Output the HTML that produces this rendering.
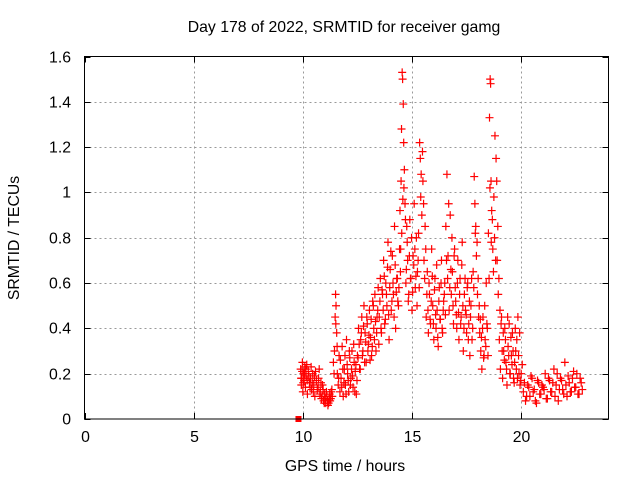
<!DOCTYPE html>
<html><head><meta charset="utf-8"><style>
body{margin:0;background:#fff}
svg text{font-family:"Liberation Sans","DejaVu Sans",sans-serif;font-size:15.8px;fill:#000}
</style></head><body>
<svg id="chart" width="640" height="480" xmlns="http://www.w3.org/2000/svg">
<rect width="640" height="480" fill="#fff"/>
<text x="344" y="32" text-anchor="middle">Day 178 of 2022, SRMTID for receiver gamg</text>
<text transform="translate(19,238) rotate(-90)" text-anchor="middle">SRMTID / TECUs</text>
<text x="345" y="471" text-anchor="middle">GPS time / hours</text>
<g id="grid"></g>
<g id="ticks"></g>
<g id="marks"></g>
<rect x="84.5" y="56.5" width="524" height="362.5" fill="none" stroke="#000" stroke-width="1"/>
</svg>
<script>
const xTicks=[0,5,10,15,20];
const yTicks=[0,0.2,0.4,0.6,0.8,1,1.2,1.4,1.6];
const yTickLabels=["0","0.2","0.4","0.6","0.8","1","1.2","1.4","1.6"];
const times=[9.90,9.93,9.95,9.98,10.00,10.03,10.06,10.09,10.12,10.15,10.18,10.21,10.25,10.30,10.35,10.40,10.45,10.50,10.55,10.62,
10.70,10.75,10.80,10.85,10.90,10.95,11.00,11.05,11.10,11.15,11.20,11.25,11.30,11.35,
11.40,11.45,11.48,11.50,11.52,11.55,11.58,11.62,11.66,
11.70,11.75,11.80,11.85,11.90,11.95,12.00,12.05,12.10,12.15,12.20,12.25,12.30,12.35,12.40,12.45,
12.50,12.55,12.60,12.65,12.70,12.75,12.80,12.85,12.90,12.95,13.00,13.05,13.10,13.15,13.20,13.25,13.30,13.35,13.40,13.45,
13.50,13.55,13.60,13.65,13.70,13.75,13.80,13.85,13.90,13.95,14.00,14.05,14.10,14.15,14.20,14.25,14.30,14.35,
14.40,14.45,14.48,14.50,14.52,14.55,14.57,14.60,14.62,14.65,14.68,14.72,14.76,14.80,
14.85,14.90,14.95,15.00,15.05,15.10,15.15,15.20,15.25,
15.30,15.35,15.38,15.42,15.45,15.50,15.55,15.60,
15.65,15.70,15.75,15.80,15.85,15.90,15.95,16.00,16.05,16.10,16.15,16.20,16.25,16.30,16.35,16.40,16.45,
16.50,16.55,16.60,16.65,16.70,16.75,16.80,16.85,16.90,16.95,
17.00,17.05,17.10,17.15,17.20,17.25,17.30,17.35,17.40,17.45,17.50,17.55,17.60,17.65,17.70,17.75,
17.80,17.85,17.88,17.92,17.95,18.00,18.05,18.10,
18.15,18.20,18.25,18.30,18.35,18.40,18.45,
18.50,18.55,18.58,18.60,18.62,18.65,18.70,18.75,18.80,18.85,18.90,18.95,
19.00,19.05,19.10,19.15,19.20,19.25,19.30,19.35,19.40,19.45,19.50,19.55,19.60,19.65,19.70,19.75,19.80,19.85,19.90,19.95,
20.0,20.1,20.2,20.3,20.4,20.5,20.6,20.7,20.8,20.9,21.0,21.1,21.2,21.3,21.4,21.5,21.6,21.7,21.8,21.9,22.0,22.1,22.2,22.3,22.4,22.5,22.6,22.7,22.8];
const values=[.22,.15,.18,.25,.12,.20,.17,.23,.14,.19,.24,.11,.21,.16,.18,.13,.20,.15,.10,.17,
.14,.22,.12,.09,.15,.08,.11,.07,.10,.06,.09,.08,.12,.10,
.25,.30,.45,.55,.50,.38,.20,.15,.28,
.12,.18,.32,.10,.22,.15,.35,.20,.12,.27,.18,.30,.14,.25,.21,.11,
.28,.40,.22,.35,.45,.30,.50,.38,.25,.42,.33,.48,.36,.28,.52,.40,.55,.30,.45,.58,
.45,.62,.38,.55,.70,.42,.60,.50,.78,.35,.66,.48,.72,.55,.85,.40,.62,.52,
.58,.92,.75,1.05,1.28,1.53,1.50,1.39,1.22,1.10,.95,.60,.85,.70,
.55,.88,.62,.48,.72,.95,.58,.80,.65,
.82,1.22,1.15,1.08,.90,1.05,.70,.85,
.45,.65,.38,.55,.42,.75,.50,.35,.62,.40,.48,.32,.58,.44,.70,.38,.52,
.60,.85,1.08,.72,.48,.90,.55,.65,.42,.75,
.52,.40,.70,.35,.62,.45,.78,.30,.55,.48,.38,.60,.42,.28,.50,.35,
.65,1.07,.95,.85,.72,.55,.45,.38,
.30,.22,.45,.28,.35,.60,.40,
.82,1.33,1.50,1.48,1.05,.92,.75,.98,1.25,1.15,.70,.55,
.35,.22,.45,.18,.30,.40,.25,.15,.32,.42,.20,.28,.38,.18,.25,.30,.35,.45,.20,.15,
.20,.12,.08,.15,.10,.18,.13,.07,.16,.11,.14,.20,.09,.17,.12,.22,.15,.08,.18,.13,.25,.10,.16,.12,.21,.14,.11,.18,.13];
const times2=[9.92,9.97,10.02,10.08,10.14,10.20,10.27,10.33,10.38,10.43,10.48,10.53,10.58,10.66,10.72,10.78,10.83,10.88,10.93,10.98,11.03,11.08,11.13,11.18,11.23,11.28,11.33,
11.43,11.51,11.57,11.64,11.72,11.78,11.83,11.88,11.93,11.98,12.03,12.08,12.13,12.18,12.23,12.28,12.33,12.38,12.43,12.48,
12.53,12.58,12.63,12.68,12.73,12.78,12.83,12.88,12.93,12.98,13.03,13.08,13.13,13.18,13.23,13.28,13.33,13.38,13.43,13.48,
13.53,13.58,13.63,13.68,13.73,13.78,13.83,13.88,13.93,13.98,14.03,14.08,14.13,14.18,14.23,14.28,14.33,14.38,
14.43,14.47,14.53,14.58,14.63,14.70,14.74,14.78,14.83,14.88,14.93,14.98,15.03,15.08,15.13,15.18,15.23,15.28,15.33,15.40,15.48,15.53,15.58,
15.63,15.68,15.73,15.78,15.83,15.88,15.93,15.98,16.03,16.08,16.13,16.18,16.23,16.28,16.33,16.38,16.43,16.48,16.53,16.58,16.63,16.68,16.73,16.78,16.83,16.88,16.93,16.98,
17.03,17.08,17.13,17.18,17.23,17.28,17.33,17.38,17.43,17.48,17.53,17.58,17.63,17.68,17.73,17.78,17.83,17.90,17.98,18.03,18.08,18.13,18.18,18.23,18.28,18.33,18.38,18.43,18.48,
18.53,18.57,18.63,18.68,18.73,18.78,18.83,18.88,18.93,18.98,19.03,19.08,19.13,19.18,19.23,19.28,19.33,19.38,19.43,19.48,19.53,19.58,19.63,19.68,19.73,19.78,19.83,19.88,19.93,19.98,
20.05,20.15,20.25,20.35,20.45,20.55,20.65,20.75,20.85,20.95,21.05,21.15,21.25,21.35,21.45,21.55,21.65,21.75,21.85,21.95,22.05,22.15,22.25,22.35,22.45,22.55,22.65,22.75];
const values2=[.18,.21,.16,.20,.22,.17,.19,.14,.23,.16,.12,.19,.21,.13,.18,.11,.16,.10,.13,.07,.09,.12,.08,.07,.11,.09,.13,
.20,.42,.32,.18,.26,.14,.22,.16,.28,.11,.24,.17,.30,.15,.22,.19,.33,.12,.24,.17,.27,
.33,.22,.38,.28,.41,.25,.34,.45,.30,.37,.26,.44,.32,.50,.35,.43,.38,.48,.33,.52,
.40,.57,.48,.63,.44,.55,.67,.46,.58,.74,.52,.60,.45,.68,.56,.62,.50,.75,
.65,.82,.97,1.02,.88,.66,.78,.52,.72,.62,.80,.56,.68,.75,.63,.50,.70,.58,.98,1.18,.95,.62,.75,
.55,.48,.60,.44,.52,.63,.42,.57,.46,.68,.36,.52,.44,.60,.40,.48,.55,.46,.70,.62,.95,.58,.66,.80,.50,.72,.58,.46,
.60,.47,.55,.42,.68,.50,.40,.62,.46,.58,.35,.52,.45,.62,.40,.58,.82,.78,.62,.50,.44,.36,.40,.27,.50,.32,.42,.28,.62,
1.02,.78,.88,.65,.80,.70,1.05,.85,.62,.48,.42,.30,.38,.26,.35,.22,.45,.28,.20,.36,.24,.30,.16,.40,.22,.18,.28,.38,.17,.24,
.16,.10,.14,.19,.12,.08,.17,.11,.15,.13,.09,.18,.12,.16,.10,.20,.13,.17,.11,.15,.19,.12,.18,.14,.20,.11,.16,.14];
const zeroPoints=[9.8];
const NS="http://www.w3.org/2000/svg";
const X0=84.5,X1=608.5,Y0=419,Y1=56.5;
function xs(v){return X0+(v-0)/24*(X1-X0);}
function ys(v){return Y0-(v-0)/1.6*(Y0-Y1);}
function mk(tag,attrs,parent){const e=document.createElementNS(NS,tag);for(const k in attrs)e.setAttribute(k,attrs[k]);parent.appendChild(e);return e;}
const grid=document.getElementById('grid'),ticks=document.getElementById('ticks'),marks=document.getElementById('marks');
xTicks.forEach((t,i)=>{const x=Math.round(xs(t))+0.5;
 if(t>0){const g=mk('line',{x1:x,x2:x,y1:Y1,y2:Y0,stroke:'#999','stroke-dasharray':'2,3'},grid);
 
 }
 mk('line',{x1:x,x2:x,y1:Y0,y2:Y0-6,stroke:'#000'},ticks);
 mk('line',{x1:x,x2:x,y1:Y1,y2:Y1+6,stroke:'#000'},ticks);
 const l=mk('text',{x:x,y:442,'text-anchor':'middle'},ticks);l.textContent=String(t);
 
 });
yTicks.forEach((t,i)=>{const y=Math.round(ys(t))+0.5;
 if(t>0&&t<1.6){const g=mk('line',{x1:X0,x2:X1,y1:y,y2:y,stroke:'#999','stroke-dasharray':'2,3'},grid);
 
 }
 mk('line',{x1:X0,x2:X0+6,y1:y,y2:y,stroke:'#000'},ticks);
 mk('line',{x1:X1,x2:X1-6,y1:y,y2:y,stroke:'#000'},ticks);
 const l=mk('text',{x:71,y:y+5,'text-anchor':'end'},ticks);l.textContent=yTickLabels[i];
 
 });
function plus(t,v){const x=xs(t),y=ys(v);
 const p=mk('path',{d:`M${x-4},${y}H${x+4}M${x},${y-4}V${y+4}`,stroke:'#f00','stroke-width':1.2,fill:'none'},marks);
 
 }
times.forEach((t,i)=>plus(t,values[i]));
times2.forEach((t,i)=>plus(t,values2[i]));
zeroPoints.forEach(t=>{const r=mk('rect',{x:xs(t)-3,y:ys(0)-3,width:6,height:6,fill:'#f00'},marks);
 
 });
</script>
</body></html>
